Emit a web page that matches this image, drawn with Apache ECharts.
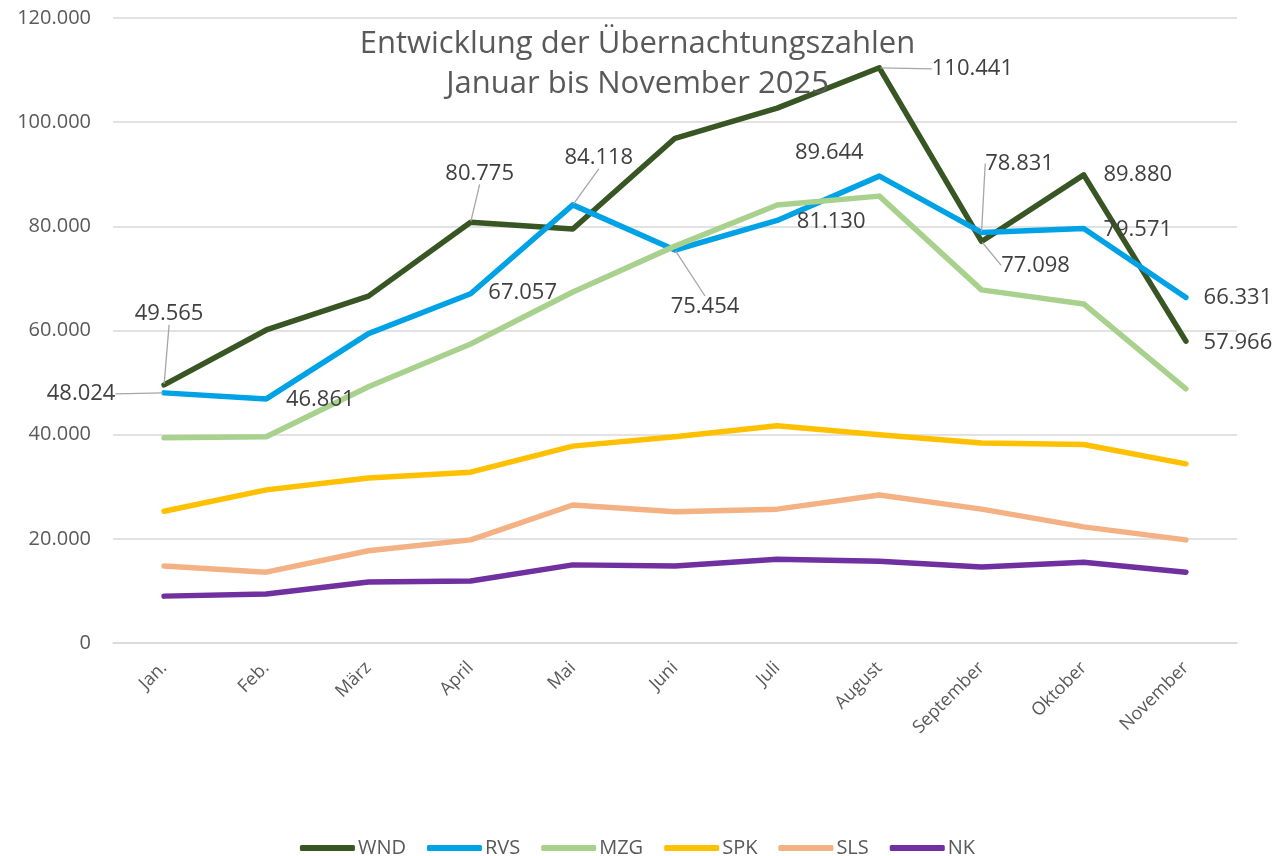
<!DOCTYPE html>
<html>
<head>
<meta charset="utf-8">
<script src="https://cdn.jsdelivr.net/npm/echarts@6/dist/echarts.min.js"></script>
<style>
html,body{margin:0;padding:0;background:#fff;}
#chart{width:1275px;height:856px;}
</style>
</head>
<body>
<div id="chart"></div>
<script>
// ---- data ----
const categories = ["Jan.", "Feb.", "März", "April", "Mai", "Juni", "Juli", "August", "September", "Oktober", "November"];
const seriesNames = ["WND", "RVS", "MZG", "SPK", "SLS", "NK"];
const WND = [49565, 60100, 66600, 80775, 79500, 96900, 102700, 110441, 77098, 89880, 57966];
const RVS = [48024, 46861, 59400, 67057, 84118, 75454, 81130, 89644, 78831, 79571, 66331];
const MZG = [39400, 39600, 49200, 57400, 67400, 76200, 84100, 85800, 67800, 65100, 48800];
const SPK = [25300, 29400, 31700, 32800, 37800, 39600, 41700, 40000, 38400, 38100, 34400];
const SLS = [14800, 13600, 17700, 19800, 26500, 25200, 25700, 28400, 25700, 22300, 19800];
const NK  = [9000, 9400, 11700, 11900, 15000, 14800, 16100, 15700, 14600, 15500, 13600];
const yTicks = [0, 20000, 40000, 60000, 80000, 100000, 120000];

// ---- styling ----
const colors = ["#375623", "#00A2E6", "#A9D18E", "#FFC000", "#F4B183", "#7030A0"];
// label offsets (dx, dy from point to label centre, leader line flag) – layout only
const labelLayoutCfg = {
  0: {0: [5, -71, true], 3: [9, -49, true], 7: [93, 1, true], 8: [54, 24, true], 9: [54, 0], 10: [52, 2]},
  1: {0: [-83, 1, true], 1: [54, 1], 3: [52, -1], 4: [26, -47, true], 5: [30, 57, true], 6: [54, 1], 7: [-50, -23], 8: [38, -69, true], 9: [54, 1], 10: [52, 0]}
};

function fmt(v) { return String(v).replace(/\B(?=(\d{3})+(?!\d))/g, "."); }

const allData = [WND, RVS, MZG, SPK, SLS, NK];
const FONT = "'Open Sans', sans-serif";

const series = allData.map((arr, si) => {
  const cfg = labelLayoutCfg[si] || {};
  return {
    name: seriesNames[si],
    type: "line",
    data: arr.map((v, i) => {
      const c = cfg[i];
      return {
        value: v,
        label: {show: !!c},
        labelLine: {show: !!(c && c[2])}
      };
    }),
    showSymbol: true,
    symbol: "circle",
    symbolSize: 2,
    itemStyle: {color: colors[si]},
    lineStyle: {width: 5.5, color: colors[si], cap: "round", join: "round"},
    label: {
      show: false,
      position: "inside",
      formatter: p => fmt(p.value),
      fontFamily: FONT,
      fontSize: 22,
      color: "#404040"
    },
    labelLine: {lineStyle: {color: "#A6A6A6", width: 1.3}},
    labelLayout: function (params) {
      const c = cfg[params.dataIndex];
      if (!c) return {};
      return {dx: c[0], dy: c[1]};
    },
    emphasis: {disabled: true},
    silent: true,
    animation: false
  };
});

const chart = echarts.init(document.getElementById("chart"), null, {renderer: "canvas"});
chart.setOption({
  backgroundColor: "#ffffff",
  animation: false,
  title: {
    text: "Entwicklung der Übernachtungszahlen\nJanuar bis November 2025",
    left: "center",
    top: 19,
    textStyle: {fontFamily: FONT, fontSize: 31, fontWeight: "normal", color: "#595959", lineHeight: 40}
  },
  legend: {
    data: seriesNames,
    left: "center",
    top: 833,
    icon: "roundRect",
    itemWidth: 55,
    itemHeight: 6,
    itemGap: 21,
    textStyle: {fontFamily: FONT, fontSize: 20, color: "#595959", padding: [0, 0, 0, -2]}
  },
  grid: {left: 113, right: 38, top: 18, bottom: 213},
  xAxis: {
    type: "category",
    data: categories,
    boundaryGap: true,
    axisLine: {show: true, lineStyle: {color: "#D9D9D9", width: 1.5}},
    axisTick: {show: false},
    axisLabel: {rotate: 45, fontFamily: FONT, fontSize: 18, color: "#595959", margin: 22}
  },
  yAxis: {
    type: "value",
    min: yTicks[0],
    max: yTicks[yTicks.length - 1],
    interval: yTicks[1] - yTicks[0],
    axisLine: {show: false},
    axisTick: {show: false},
    splitLine: {lineStyle: {color: "#D9D9D9", width: 1.5}},
    axisLabel: {formatter: v => fmt(v), fontFamily: FONT, fontSize: 20, color: "#595959", margin: 22}
  },
  series: series
});
</script>
</body>
</html>
